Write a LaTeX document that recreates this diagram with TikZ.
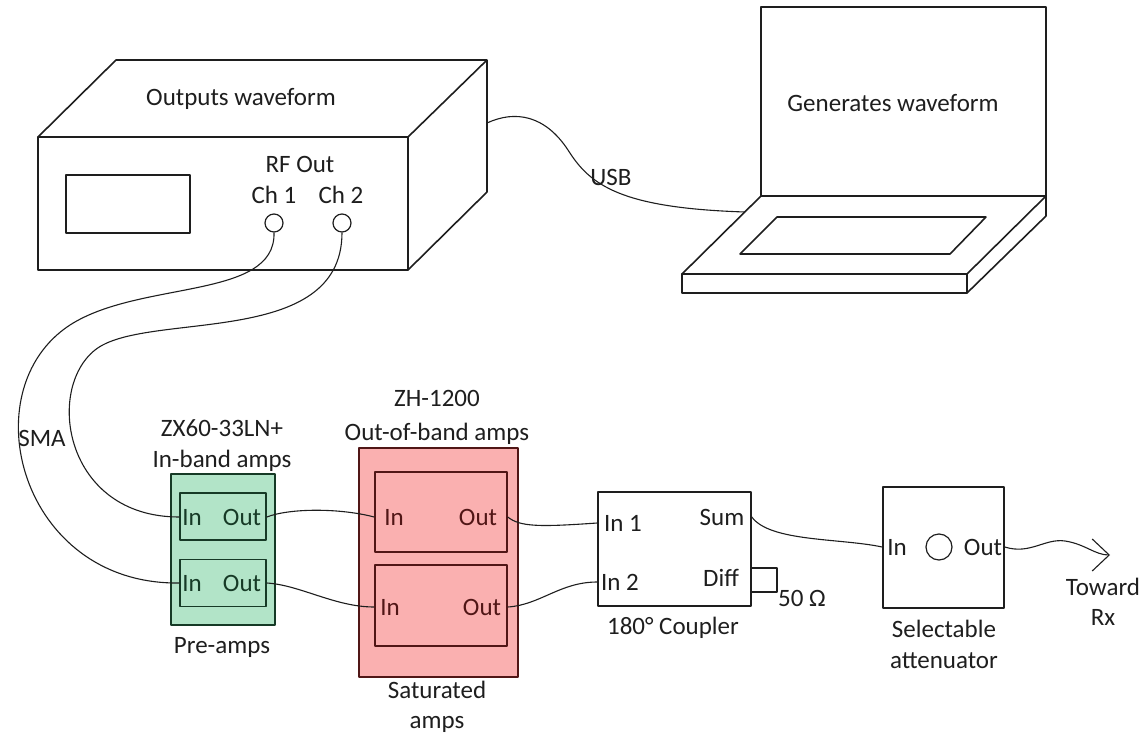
\documentclass[tikz,border=0pt]{standalone}
\usepackage{fontspec}
\setmainfont{Carlito}
\usepackage{tikz}
\definecolor{Preamp}{RGB}{178,228,200}
\definecolor{PreampLine}{RGB}{22,58,38}
\definecolor{Satamp}{RGB}{250,176,176}
\definecolor{SatampLine}{RGB}{80,22,22}
\definecolor{Ink}{RGB}{30,30,30}
\usetikzlibrary{arrows.meta}

\begin{document}
\begin{tikzpicture}[x=0.5pt, y=-0.5pt, line join=round, draw=Ink,
    every node/.style={font=\fontsize{12.5}{15}\selectfont, inner sep=0pt, text=Ink},
    txt/.style={text height=8pt, text depth=0pt},
    unit/.style={draw=Ink, line width=0.8pt},
    cable/.style={line width=0.55pt},
    pretxt/.style={txt, text=PreampLine},
    sattxt/.style={txt, text=SatampLine}]
    \useasboundingbox (0,0) rectangle (1148,734);

    % signal generator
    \draw[line width=0.8pt] (38,137) rectangle (408,270);
    \draw[line width=0.8pt] (38,137) -- (116,60) -- (487,60) -- (408,137)
        (487,60) -- (487,192) -- (408,270);
    \draw[line width=0.8pt] (66,175) rectangle (190,233);
    \node[txt] (genlabel) at (241,97) {Outputs waveform};
    \node[txt] (rfout) at (300,164) {RF Out};
    \node[txt] (ch1lbl) at (274,195) {Ch 1};
    \node[txt] (ch2lbl) at (341,195) {Ch 2};
    \node[draw, circle, minimum size=9pt, line width=0.6pt] (ch1) at (274,223) {};
    \node[draw, circle, minimum size=9pt, line width=0.6pt] (ch2) at (342,223) {};
    \coordinate (usbgen) at (487,123);

    % laptop
    \draw[line width=0.8pt] (761,7) rectangle (1046,196);
    \draw[line width=0.8pt] (761,196) -- (1046,196) -- (967,274) -- (682,274) -- cycle;
    \draw[line width=0.8pt] (682,274) rectangle (967,293);
    \draw[line width=0.8pt] (1046,196) -- (1046,216) -- (967,293);
    \draw[line width=0.8pt] (777,217) -- (986,217) -- (950,254) -- (740,254) -- cycle;
    \node[txt] (pclabel) at (893,103) {Generates waveform};
    \coordinate (usbpc) at (745,212);

    \draw[cable] (usbgen) .. controls (515,110) and (545,115) .. (568,150)
        .. controls (590,185) and (620,208) .. (usbpc);
    \node[txt] (usb) at (611,177) {USB};

    % pre-amps
    \node[unit, fill=Preamp, draw=PreampLine, minimum width=52pt, minimum height=75.5pt] (pre) at (223,549.5) {};
    \node[unit, draw=PreampLine, minimum width=43pt, minimum height=23.5pt] (pre1) at (223,516.5) {};
    \node[unit, draw=PreampLine, minimum width=43pt, minimum height=23.5pt] (pre2) at (223,583) {};
    \node[pretxt] (pre1in) at (192,517) {In};
    \node[pretxt] (pre1out) at (242,517) {Out};
    \node[pretxt] (pre2in) at (192,583) {In};
    \node[pretxt] (pre2out) at (242,583) {Out};
    \node[txt] (prepart) at (222,428) {ZX60-33LN+};
    \node[txt] (preband) at (222,459) {In-band amps};
    \node[txt] (prename) at (222,645) {Pre-amps};

    % saturated amps
    \node[unit, fill=Satamp, draw=SatampLine, minimum width=79.5pt, minimum height=114.5pt] (sat) at (438.5,562.5) {};
    \node[unit, draw=SatampLine, minimum width=66pt, minimum height=40pt] (sat1) at (441,512) {};
    \node[unit, draw=SatampLine, minimum width=66pt, minimum height=40.5pt] (sat2) at (441,605.5) {};
    \node[sattxt] (sat1in) at (394,517) {In};
    \node[sattxt] (sat1out) at (478,517) {Out};
    \node[sattxt] (sat2in) at (390,607) {In};
    \node[sattxt] (sat2out) at (482,607) {Out};
    \node[txt] (satpart) at (437,398) {ZH-1200};
    \node[txt] (satband) at (437,432) {Out-of-band amps};
    \node[txt] (satname) at (437,690) {Saturated};
    \node[txt] (satname2) at (437,720) {amps};

    % 180 degree coupler
    \node[unit, minimum width=76.5pt, minimum height=57pt] (coupler) at (674.5,549) {};
    \node[txt] (cin1) at (623,523) {In 1};
    \node[txt] (cin2) at (620,582) {In 2};
    \node[txt] (csum) at (722,517) {Sum};
    \node[txt] (cdiff) at (721,578) {Diff};
    \draw[line width=0.8pt] (coupler.east |- 0,568) -- (777,568) -- (777,592) -- (coupler.east |- 0,592);
    \node[txt] (load) at (802,598) {50 Ω};
    \node[txt] (cname) at (673,626) {180° Coupler};

    % attenuator
    \node[unit, minimum width=60.5pt, minimum height=60.5pt] (att) at (943.5,547.5) {};
    \node[draw, circle, minimum size=13pt, line width=0.6pt] (knob) at (939,547) {};
    \node[txt] (attin) at (897,547) {In};
    \node[txt] (attout) at (983,547) {Out};
    \node[txt] (attname) at (944,629) {Selectable};
    \node[txt] (attname2) at (944,660) {attenuator};
    \coordinate (rx) at (1110,555);
    \node[txt] (toward) at (1103,587) {Toward};
    \node[txt] (towardrx) at (1103,617) {Rx};

    % SMA cables
    \draw[cable] (ch1.south) .. controls (276,300) and (140,280) .. (70,325)
        .. controls (-30,390) and (20,585) .. (pre2.west |- pre2in);
    \draw[cable] (ch2.south) .. controls (342,350) and (145,310) .. (95,350)
        .. controls (45,390) and (65,517) .. (pre1.west |- pre1in);
    \node[txt] (sma) at (42,438) {SMA};

    \draw[cable] (pre1.east |- pre1out) .. controls (290,508) and (340,508) .. (sat1.west |- sat1in);
    \draw[cable] (pre2.east |- pre2out) .. controls (300,585) and (335,607) .. (sat2.west |- sat2in);
    \draw[cable] (sat1.east |- sat1out) .. controls (520,527) and (540,527) .. (coupler.west |- cin1);
    \draw[cable] (sat2.east |- sat2out) .. controls (540,605) and (560,582) .. (coupler.west |- cin2);
    \draw[cable] (coupler.east |- csum) .. controls (770,542) and (840,538) .. (att.west |- attin);
    \draw[cable, -{Straight Barb[length=8.5pt, width=16pt]}] (att.east |- attout)
        .. controls (1030,555) and (1045,538) .. (1065,541) .. controls (1085,544) and (1095,555) .. (rx);
\end{tikzpicture}
\end{document}
